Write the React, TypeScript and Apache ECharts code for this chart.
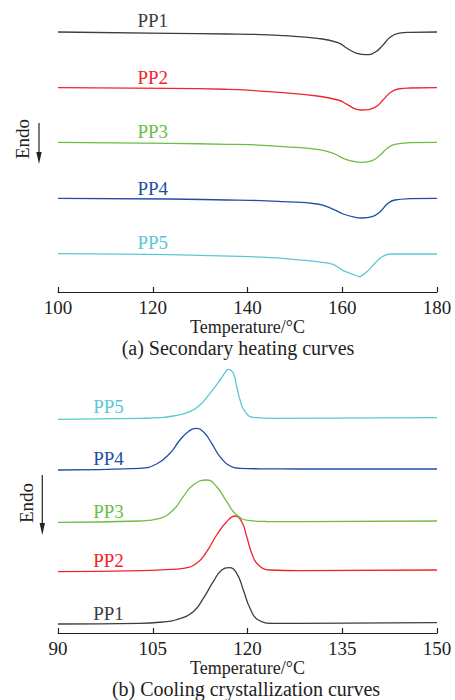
import React, { useEffect, useRef } from "react";
import * as echarts from "echarts";

// ---- Data: (a) secondary heating curves, [Temperature °C, heat flow (offset, a.u.)]
const heatTicks = [100, 120, 140, 160, 180];
const heatPP1 = [[100, 26.0], [123.6, 25.87], [135.7, 25.8], [140.5, 25.77], [147.5, 25.63], [154.7, 25.37], [159.1, 24.93], [161.0, 24.37], [163.1, 23.87], [165.0, 23.73], [166.9, 23.97], [168.6, 24.7], [170.1, 25.47], [171.8, 25.87], [174.3, 25.97], [180, 26.0]];
const heatPP2 = [[100, 20.43], [123.6, 20.37], [135.7, 20.27], [140.5, 20.17], [147.5, 19.93], [154.7, 19.6], [159.1, 19.2], [161.0, 18.77], [162.6, 18.33], [164.0, 18.2], [166.9, 18.47], [168.6, 19.2], [170.1, 19.93], [171.8, 20.3], [174.3, 20.4], [180, 20.43]];
const heatPP3 = [[100, 14.97], [123.6, 14.87], [135.7, 14.77], [140.5, 14.73], [147.5, 14.53], [154.7, 14.27], [158.1, 13.87], [160.2, 13.37], [162.7, 13.03], [164.2, 12.97], [166.3, 13.13], [168.0, 13.7], [169.5, 14.37], [171.1, 14.77], [174.3, 14.93], [180, 14.97]];
const heatPP4 = [[100, 9.37], [123.6, 9.3], [135.7, 9.2], [140.5, 9.17], [147.5, 9.03], [154.7, 8.8], [158.1, 8.27], [160.2, 7.8], [162.7, 7.47], [164.2, 7.4], [166.3, 7.53], [168.0, 8.03], [169.5, 8.8], [171.1, 9.2], [174.3, 9.33], [180, 9.37]];
const heatPP5 = [[100, 3.83], [123.6, 3.73], [140.5, 3.53], [147.5, 3.37], [154.7, 3.03], [158.1, 2.77], [160.2, 2.13], [162.3, 1.77], [163.5, 1.53], [165.2, 2.03], [166.9, 2.87], [168.4, 3.53], [170.1, 3.8], [180, 3.8]];

// ---- Data: (b) cooling crystallization curves
const coolTicks = [90, 105, 120, 135, 150];
const coolPP5 = [[90, 21.37], [103, 21.47], [106, 21.53], [108.24, 21.7], [110.89, 22.13], [112.47, 22.8], [114.06, 23.97], [115.65, 25.3], [116.44, 26.03], [116.96, 26.37], [117.76, 25.97], [118.29, 24.63], [118.82, 23.3], [119.61, 22.13], [120.93, 21.57], [124.1, 21.47], [150, 21.53]];
const coolPP4 = [[90, 16.3], [103, 16.47], [105.6, 16.9], [107.72, 17.97], [109.3, 19.3], [110.62, 20.13], [111.84, 20.47], [113.0, 20.13], [114.33, 18.97], [115.65, 17.63], [117.24, 16.7], [118.82, 16.47], [122, 16.42], [128.3, 16.4], [150, 16.4]];
const coolPP3 = [[90, 11.07], [103, 11.2], [106.13, 11.47], [108.24, 12.3], [109.83, 13.63], [111.41, 14.8], [113.54, 15.3], [115.12, 14.63], [116.71, 13.13], [118.29, 11.8], [120.4, 11.23], [123, 11.15], [128.3, 11.13], [150, 11.2]];
const coolPP2 = [[90, 6.13], [103, 6.23], [107, 6.33], [109.83, 6.47], [111.95, 6.97], [113.54, 8.13], [115.12, 9.8], [116.71, 11.13], [118.03, 11.7], [119.09, 11.13], [119.88, 9.63], [120.67, 7.97], [121.72, 6.8], [123.58, 6.3], [128.33, 6.23], [150, 6.3]];
const coolPP1 = [[90, 0.9], [103, 0.97], [106.5, 1.1], [108.6, 1.3], [111.41, 2.13], [113.0, 3.47], [114.58, 5.13], [115.92, 6.3], [117.07, 6.53], [118.29, 5.97], [119.34, 4.3], [120.4, 2.47], [121.72, 1.3], [124.1, 0.97], [128.33, 0.97], [150, 1.03]];

const names = ["PP1", "PP2", "PP3", "PP4", "PP5"];
const colors = ["#3d3d3d", "#f2232b", "#6cbd45", "#1f4fa3", "#5bc7d6"];
// label anchors (temperature, value) for each curve
const heatLabelT = 120;
const heatLabelV = [27.15, 21.45, 16.05, 10.4, 5.0];
const coolLabelT = 98;
const coolLabelV = [1.97, 7.27, 12.13, 17.47, 22.63];

const FONT = "'Liberation Serif', 'Times New Roman', serif";
const TXT = "#222";

export default function App() {
  const ref = useRef<HTMLDivElement>(null);
  useEffect(() => {
    if (!ref.current) return;
    const chart = echarts.init(ref.current, undefined, { renderer: "svg" });
    const heat = [heatPP1, heatPP2, heatPP3, heatPP4, heatPP5];
    const cool = [coolPP1, coolPP2, coolPP3, coolPP4, coolPP5];
    const mkSeries = (data: number[][], i: number, grid: number, lt: number, lv: number, smooth: number) => {
      const lbl = {
        show: true,
        position: "inside",
        formatter: names[i],
        color: colors[i],
        fontSize: 19,
        fontFamily: FONT,
        fontWeight: "normal",
      };
      return {
        type: "line",
        name: names[i] + (grid ? "b" : "a"),
        xAxisIndex: grid,
        yAxisIndex: grid,
        data,
        smooth,
        showSymbol: false,
        symbol: "none",
        lineStyle: { color: colors[i], width: 1.3 },
        markPoint: {
          silent: true,
          symbol: "circle",
          symbolSize: 0,
          data: [{ coord: [lt, lv], value: names[i], label: lbl }],
          label: lbl,
        },
      };
    };
    const series: any[] = [];
    heat.forEach((d, i) => series.push(mkSeries(d, i, 0, heatLabelT, heatLabelV[i], i === 4 ? 0.3 : 0.5)));
    cool.forEach((d, i) => series.push(mkSeries(d, i, 1, coolLabelT, coolLabelV[i], 0.5)));

    const xAxisCommon = {
      type: "value",
      nameLocation: "middle",
      name: "Temperature/°C",
      nameGap: 19,
      nameTextStyle: { fontSize: 18, fontFamily: FONT, color: TXT },
      axisLine: { show: true, lineStyle: { color: TXT, width: 1.2 } },
      axisTick: { show: true, inside: true, length: 5, lineStyle: { color: TXT, width: 1.2 } },
      axisLabel: { fontSize: 19, fontFamily: FONT, color: TXT, margin: 6 },
      splitLine: { show: false },
    };

    chart.setOption({
      animation: false,
      textStyle: { fontFamily: FONT },
      grid: [
        { left: 58, width: 379, top: 12, height: 280 },
        { left: 58, width: 379, top: 363, height: 270 },
      ],
      xAxis: [
        { ...xAxisCommon, gridIndex: 0, min: heatTicks[0], max: heatTicks[heatTicks.length - 1], interval: 20 },
        { ...xAxisCommon, gridIndex: 1, min: coolTicks[0], max: coolTicks[coolTicks.length - 1], interval: 15 },
      ],
      yAxis: [
        { type: "value", gridIndex: 0, min: 0, max: 28, show: false },
        { type: "value", gridIndex: 1, min: 0, max: 27, show: false },
      ],
      graphic: [
        { type: "text", x: 22, y: 139, rotation: Math.PI / 2, style: { text: "Endo", fontSize: 19, fontFamily: FONT, fill: TXT, align: "center", verticalAlign: "middle" } },
        { type: "line", shape: { x1: 39, y1: 123, x2: 39, y2: 155 }, style: { stroke: TXT, lineWidth: 1.2 } },
        { type: "polygon", shape: { points: [[36.3, 152], [41.7, 152], [39, 164]] }, style: { fill: TXT } },
        { type: "text", x: 26, y: 503, rotation: Math.PI / 2, style: { text: "Endo", fontSize: 19, fontFamily: FONT, fill: TXT, align: "center", verticalAlign: "middle" } },
        { type: "line", shape: { x1: 42.3, y1: 475, x2: 42.3, y2: 526 }, style: { stroke: TXT, lineWidth: 1.2 } },
        { type: "polygon", shape: { points: [[39.6, 523], [45, 523], [42.3, 535]] }, style: { fill: TXT } },
        { type: "text", x: 238, y: 348, style: { text: "(a) Secondary heating curves", fontSize: 20, fontFamily: FONT, fill: TXT, align: "center", verticalAlign: "middle" } },
        { type: "text", x: 246, y: 689, style: { text: "(b) Cooling crystallization curves", fontSize: 20, fontFamily: FONT, fill: TXT, align: "center", verticalAlign: "middle" } },
      ],
      series,
    });
    return () => chart.dispose();
  }, []);
  return <div ref={ref} style={{ position: "fixed", left: 0, top: 0, width: 455, height: 700, background: "#fff" }} />;
}
